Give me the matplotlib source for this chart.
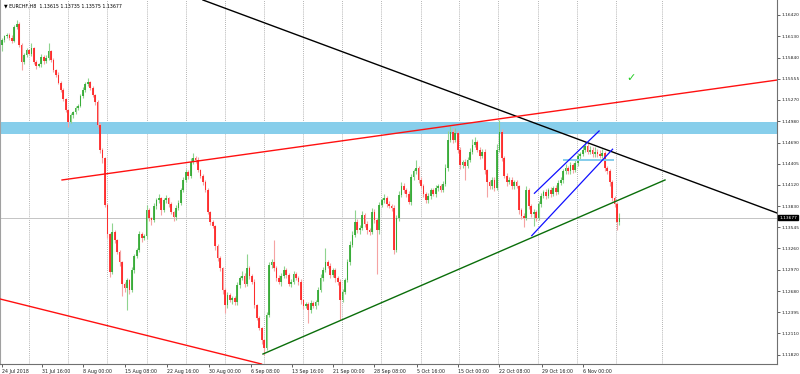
import matplotlib
matplotlib.use("Agg")
import matplotlib.pyplot as plt
import matplotlib.transforms as mtransforms
import numpy as np

# ---------------- data (EURCHF H8) ----------------
first_open = 1.1601
closes = [
    1.1608, 1.1613, 1.1615, 1.1611, 1.1607, 1.1625, 1.1630, 1.1601, 1.1578, 1.1588,
    1.1594, 1.1589, 1.1597, 1.1578, 1.1573, 1.1575, 1.1585, 1.1579, 1.1584, 1.1593,
    1.1581, 1.1567, 1.1561, 1.1550, 1.1540, 1.1528, 1.1513, 1.1497, 1.1506, 1.1510,
    1.1516, 1.1519, 1.1532, 1.1540, 1.1548, 1.1551, 1.1543, 1.1533, 1.1524, 1.1493,
    1.1459, 1.1448, 1.1385, 1.1345, 1.1294, 1.1348, 1.1337, 1.1321, 1.1307, 1.1278,
    1.1272, 1.1283, 1.1270, 1.1297, 1.1316, 1.1324, 1.1345, 1.1340, 1.1343, 1.1378,
    1.1367, 1.1364, 1.1383, 1.1391, 1.1394, 1.1378, 1.1391, 1.1394, 1.1386, 1.1375,
    1.1368, 1.1381, 1.1387, 1.1405, 1.1419, 1.1429, 1.1424, 1.1443, 1.1448, 1.1446,
    1.1432, 1.1424, 1.1416, 1.1405, 1.1375, 1.1362, 1.1356, 1.1329, 1.1313, 1.1299,
    1.1270, 1.1249, 1.1263, 1.1256, 1.1259, 1.1253, 1.1276, 1.1286, 1.1289, 1.1278,
    1.1299, 1.1289, 1.1281, 1.1249, 1.1232, 1.1218, 1.1202, 1.1191, 1.1236, 1.1304,
    1.1307, 1.1299, 1.1286, 1.1281, 1.1289, 1.1297, 1.1290, 1.1278, 1.1281, 1.1291,
    1.1286, 1.1281, 1.1256, 1.1248, 1.1251, 1.1243, 1.1252, 1.1248, 1.1253, 1.1270,
    1.1286, 1.1297, 1.1307, 1.1302, 1.1290, 1.1297, 1.1286, 1.1281, 1.1256, 1.1267,
    1.1283, 1.1307, 1.1331, 1.1344, 1.1362, 1.1351, 1.1354, 1.1371, 1.1359, 1.1351,
    1.1348, 1.1375, 1.1364, 1.1351, 1.1385, 1.1391, 1.1394, 1.1386, 1.1383, 1.1381,
    1.1324, 1.1367, 1.1398, 1.1410, 1.1405, 1.1400, 1.1389, 1.1422, 1.1430, 1.1435,
    1.1419, 1.1410, 1.1400, 1.1391, 1.1397, 1.1405, 1.1400, 1.1408, 1.1410, 1.1405,
    1.1413, 1.1435, 1.1473, 1.1484, 1.1473, 1.1482, 1.1459, 1.1439, 1.1443, 1.1438,
    1.1446, 1.1457, 1.1466, 1.1470, 1.1459, 1.1451, 1.1457, 1.1432, 1.1416, 1.1410,
    1.1419, 1.1408, 1.1459, 1.1484, 1.1448, 1.1424, 1.1416, 1.1419, 1.1410, 1.1416,
    1.1410, 1.1378, 1.1370, 1.1367, 1.1405, 1.1383, 1.1372, 1.1375, 1.1367, 1.1386,
    1.1397, 1.1402, 1.1397, 1.1405, 1.1400, 1.1408, 1.1402, 1.1415, 1.1419, 1.1430,
    1.1435, 1.1430, 1.1439, 1.1432, 1.1441, 1.1451, 1.1454, 1.1459, 1.1464, 1.1457,
    1.1459, 1.1453, 1.1457, 1.1454, 1.1451, 1.1455, 1.1435, 1.1430, 1.1416, 1.1394,
    1.1386, 1.13615, 1.13677,
]
wick_up_pips = [
    3, 2, 3, 2, 4, 3, 5, 2, 3, 2,
    3, 2, 7, 2, 3, 2, 4, 2, 3, 11,
    2, 3, 2, 3, 2, 3, 2, 2, 3, 2,
    3, 2, 3, 4, 3, 5, 2, 3, 2, 3,
    2, 3, 2, 3, 2, 12, 3, 2, 3, 2,
    3, 3, 2, 4, 3, 2, 5, 3, 2, 6,
    3, 2, 4, 3, 6, 2, 3, 4, 2, 3,
    2, 3, 4, 3, 3, 4, 3, 5, 7, 3,
    3, 2, 3, 2, 3, 2, 3, 2, 3, 3,
    2, 3, 4, 3, 2, 3, 4, 3, 6, 3,
    20, 3, 2, 3, 2, 3, 2, 2, 4, 3,
    4, 30, 3, 4, 3, 5, 3, 2, 3, 4,
    3, 2, 3, 2, 3, 2, 4, 3, 3, 4,
    5, 4, 19, 3, 4, 3, 3, 2, 3, 4,
    3, 4, 5, 6, 16, 4, 3, 6, 3, 4,
    3, 5, 4, 3, 4, 3, 6, 3, 4, 3,
    3, 4, 5, 6, 4, 3, 4, 5, 4, 11,
    3, 4, 3, 2, 4, 3, 3, 4, 3, 3,
    4, 5, 12, 8, 5, 7, 3, 4, 3, 4,
    4, 5, 8, 6, 3, 4, 3, 3, 2, 3,
    3, 4, 8, 16, 3, 3, 4, 3, 4, 3,
    3, 2, 3, 4, 6, 3, 3, 4, 3, 4,
    4, 3, 4, 3, 4, 3, 4, 3, 4, 4,
    5, 3, 4, 3, 4, 4, 3, 5, 6, 4,
    5, 4, 6, 4, 5, 5, 3, 3, 3, 2,
    3, 3, 6,
]
wick_dn_pips = [
    8, 3, 2, 3, 3, 2, 2, 3, 11, 3,
    3, 2, 3, 3, 5, 2, 3, 3, 2, 3,
    3, 2, 3, 2, 3, 3, 3, 7, 2, 3,
    2, 3, 2, 2, 3, 2, 3, 2, 4, 3,
    4, 6, 3, 5, 7, 3, 4, 3, 5, 17,
    5, 30, 6, 3, 4, 3, 3, 5, 3, 4,
    4, 6, 3, 4, 3, 7, 3, 3, 4, 3,
    5, 3, 3, 2, 3, 3, 4, 3, 3, 4,
    3, 3, 4, 3, 3, 4, 3, 5, 4, 3,
    6, 11, 4, 3, 5, 3, 3, 4, 3, 4,
    3, 4, 3, 4, 3, 3, 5, 9, 3, 3,
    4, 3, 4, 3, 6, 3, 4, 3, 4, 3,
    3, 4, 5, 4, 3, 18, 4, 3, 4, 3,
    3, 4, 3, 3, 4, 3, 5, 4, 27, 3,
    3, 3, 4, 3, 3, 4, 5, 3, 4, 5,
    4, 3, 4, 60, 5, 3, 3, 4, 3, 5,
    6, 3, 4, 3, 4, 5, 3, 4, 3, 3,
    4, 3, 5, 4, 3, 4, 3, 4, 4, 3,
    3, 3, 4, 3, 4, 3, 4, 5, 4, 19,
    3, 3, 4, 3, 3, 4, 3, 5, 20, 4,
    4, 5, 3, 3, 4, 3, 5, 3, 4, 4,
    3, 5, 4, 12, 3, 4, 4, 16, 4, 3,
    4, 3, 4, 3, 5, 3, 4, 3, 3, 4,
    3, 4, 3, 4, 3, 3, 4, 3, 3, 4,
    3, 4, 3, 4, 3, 3, 4, 3, 5, 4,
    4, 11, 4,
]

price_ticks = [1.16420, 1.16130, 1.15840, 1.15555, 1.15270, 1.14980, 1.14690,
               1.14405, 1.14120, 1.13830, 1.13545, 1.13260, 1.12970, 1.12680,
               1.12395, 1.12110, 1.11820]
date_labels = ["24 Jul 2018", "31 Jul 16:00", "8 Aug 00:00", "15 Aug 08:00",
               "22 Aug 16:00", "30 Aug 00:00", "6 Sep 08:00", "13 Sep 16:00",
               "21 Sep 00:00", "28 Sep 08:00", "5 Oct 16:00", "15 Oct 00:00",
               "22 Oct 08:00", "29 Oct 16:00", "6 Nov 00:00"]
date_label_bars = [0, 16.3, 33.1, 50.2, 67.3, 84.5, 101.6, 118.4, 135.1,
                   151.8, 169.4, 186.1, 202.9, 220.4, 237.1]
grid_bars = [11.0, 26.9, 42.9, 59.2, 75.1, 91.0, 106.9, 122.9, 138.8, 154.7,
             170.9, 186.5, 202.4, 218.7, 234.6, 250.6, 269.4]

# drawn objects (bar index, price anchors)
black_line = [(82.0, 1.16620), (316.3, 1.13738)]
red_upper = [(24.5, 1.14185), (316.3, 1.15537)]
red_lower = [(-0.82, 1.12575), (98.5, 1.11756)]
green_line = [(106.5, 1.11830), (270.6, 1.14185)]
chan_upper = [(217.3, 1.14005), (243.7, 1.14848)]
chan_lower = [(216.2, 1.13431), (249.2, 1.14601)]
zone_big = (1.14807, 1.14969)
zone_small = (229.0, 249.8, 1.14435, 1.14475)
check_pos = (256.7, 1.15565)
header = "\u25BC EURCHF,H8  1.13615 1.13735 1.13575 1.13677"

# ---------------- figure ----------------
W, H = 800, 374
fig = plt.figure(figsize=(W / 100, H / 100), dpi=100)
fig.patch.set_facecolor("white")
ax = fig.add_axes([0, 10 / H, 777 / W, 364 / H])
ax.set_xlim(-0.82, 316.3)
ax.set_ylim(1.11695, 1.16620)

closes_a = np.array(closes)
opens_a = np.concatenate([[first_open], closes_a[:-1]])
highs_a = np.maximum(opens_a, closes_a) + np.array(wick_up_pips) * 1e-4
lows_a = np.minimum(opens_a, closes_a) - np.array(wick_dn_pips) * 1e-4
idx = np.arange(len(closes_a))
up = closes_a >= opens_a

# zones
ax.axhspan(zone_big[0], zone_big[1], color="#87CEEB", zorder=1, lw=0)

# grid
for g in grid_bars:
    ax.axvline(g, color="#9a9a9a", lw=0.6, ls=(0, (1, 1.5)), zorder=0.5)

# current price line
ax.axhline(closes[-1], color="#c4c4c4", lw=0.7, zorder=0.6)

# candles
ax.vlines(idx[up], lows_a[up], highs_a[up], color="#8fd48f", lw=0.8, zorder=2)
ax.vlines(idx[~up], lows_a[~up], highs_a[~up], color="#f5a3a3", lw=0.8, zorder=2)
body_bot = np.minimum(opens_a, closes_a)
body_h = np.maximum(np.abs(closes_a - opens_a), 0.00008)
ax.bar(idx[up], body_h[up], bottom=body_bot[up], width=0.7,
       color="#2aa52a", alpha=0.85, lw=0, zorder=3)
ax.bar(idx[~up], body_h[~up], bottom=body_bot[~up], width=0.7,
       color="#ff1a1a", alpha=0.85, lw=0, zorder=3)

# small zone
ax.fill_between([zone_small[0], zone_small[1]], zone_small[2], zone_small[3],
                color="#87CEEB", lw=0, zorder=4)

# trend lines
ax.axline(black_line[0], black_line[1], color="black", lw=1.0, zorder=5)
ax.plot(*zip(*red_upper), color="#ff1010", lw=1.0, zorder=5)
ax.axline(red_lower[0], red_lower[1], color="#ff1010", lw=1.0, zorder=5)
ax.plot(*zip(*green_line), color="#0a6e0a", lw=1.0, zorder=5)
ax.plot(*zip(*chan_upper), color="#1010ff", lw=0.9, zorder=5)
ax.plot(*zip(*chan_lower), color="#1010ff", lw=0.9, zorder=5)

ax.text(check_pos[0], check_pos[1], "\u2713", color="#22cc22", fontsize=8,
        ha="center", va="center", zorder=6)

# axes styling
ax.spines["top"].set_visible(False)
ax.spines["left"].set_color("#a0a0a0")
ax.spines["left"].set_linewidth(0.8)
ax.spines["right"].set_color("#707070")
ax.spines["bottom"].set_color("#707070")
ax.spines["right"].set_linewidth(0.8)
ax.spines["bottom"].set_linewidth(0.8)

ax.yaxis.tick_right()
ax.set_yticks(price_ticks)
ax.set_yticklabels([f"{p:.5f}" for p in price_ticks], fontsize=3.2)
ax.tick_params(axis="y", length=2, width=0.5, pad=1, colors="#202020")
ax.set_xticks(date_label_bars)
ax.set_xticklabels(date_labels, fontsize=3.4, ha="left")
ax.tick_params(axis="x", length=2, width=0.5, pad=1.5, colors="#202020")

# current price label box
trans = mtransforms.blended_transform_factory(ax.transAxes, ax.transData)
ax.text(1.003, closes[-1], f"{closes[-1]:.5f}", transform=trans, fontsize=3.2,
        color="white", va="center", ha="left", clip_on=False, zorder=10,
        bbox=dict(boxstyle="square,pad=0.2", fc="black", ec="black"))

fig.text(4 / W, 1 - 3 / H, header, fontsize=3.4, va="top", ha="left")

fig.savefig("out.png", dpi=100, facecolor="white")
